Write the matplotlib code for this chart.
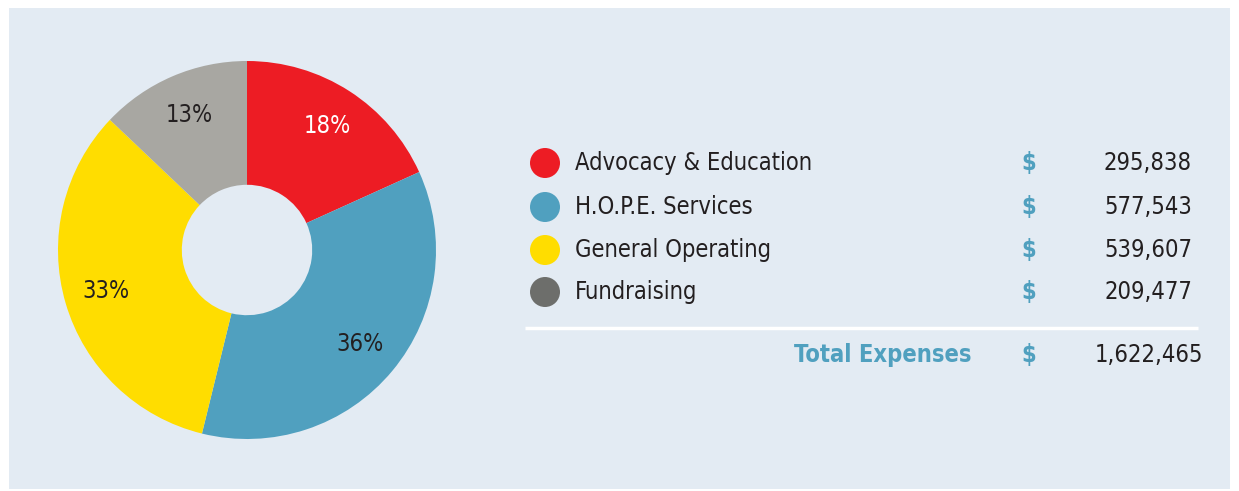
import matplotlib
matplotlib.use('Agg')
import matplotlib.pyplot as plt
from matplotlib.patches import Rectangle, Circle

categories = ['Advocacy & Education', 'H.O.P.E. Services', 'General Operating', 'Fundraising']
values = [295838, 577543, 539607, 209477]
total_label = 'Total Expenses'
total_value = 1622465

pie_colors = ['#ed1c24', '#50a0bf', '#ffdd00', '#a8a7a2']
dot_colors = ['#ed1c24', '#50a0bf', '#ffdd00', '#6d6e6b']
pct_colors = ['white', '#231f20', '#231f20', '#231f20']
text_color = '#231f20'
blue = '#50a0bf'
panel = '#e3ebf3'

plt.rcParams['font.family'] = ['DejaVu Sans']
plt.rcParams['font.stretch'] = 'condensed'

W, H = 1239, 491
fig = plt.figure(figsize=(W / 100, H / 100), dpi=100)
fig.patch.set_facecolor('white')

# overlay axes in pixel coords (y down)
ov = fig.add_axes([0, 0, 1, 1])
ov.set_xlim(0, W)
ov.set_ylim(H, 0)
ov.axis('off')
ov.add_patch(Rectangle((9, 8), 1221, 481, facecolor=panel, edgecolor='none'))

# donut
cx, cy, r = 247, 250, 189
ax = fig.add_axes([(cx - r) / W, (H - cy - r) / H, 2 * r / W, 2 * r / H])
wedges, texts, autotexts = ax.pie(values, colors=pie_colors, startangle=90, counterclock=False,
                                  radius=1, autopct='%.0f%%', pctdistance=0.78,
                                  wedgeprops=dict(width=1 - 0.345, edgecolor='none'),
                                  textprops=dict(fontsize=17, fontstretch='condensed'))
for t, c in zip(autotexts, pct_colors):
    t.set_color(c)
ax.set_xlim(-1, 1)
ax.set_ylim(-1, 1)
ax.set_aspect('equal')
ax.axis('off')

# legend table
rows_y = [163, 207, 250, 292]
fs = 17
for name, val, col, y in zip(categories, values, dot_colors, rows_y):
    ov.add_patch(Circle((545, y), 15, facecolor=col, edgecolor='none'))
    ov.text(575, y, name, fontsize=fs, color=text_color, va='center', ha='left', fontstretch='condensed')
    ov.text(1029, y, '$', fontsize=fs, color=blue, fontweight='bold', va='center', ha='center')
    ov.text(1192, y, f'{val:,}', fontsize=fs, color=text_color, va='center', ha='right', fontstretch='condensed')

ov.plot([525, 1198], [328, 328], color='white', lw=2.5, solid_capstyle='butt')

ty = 355
ov.text(972, ty, total_label, fontsize=fs, color=blue, fontweight='bold', va='center', ha='right', fontstretch='condensed')
ov.text(1029, ty, '$', fontsize=fs, color=blue, fontweight='bold', va='center', ha='center')
ov.text(1203, ty, f'{total_value:,}', fontsize=fs, color=text_color, va='center', ha='right', fontstretch='condensed')

fig.savefig('out.png', dpi=100, facecolor='white')
